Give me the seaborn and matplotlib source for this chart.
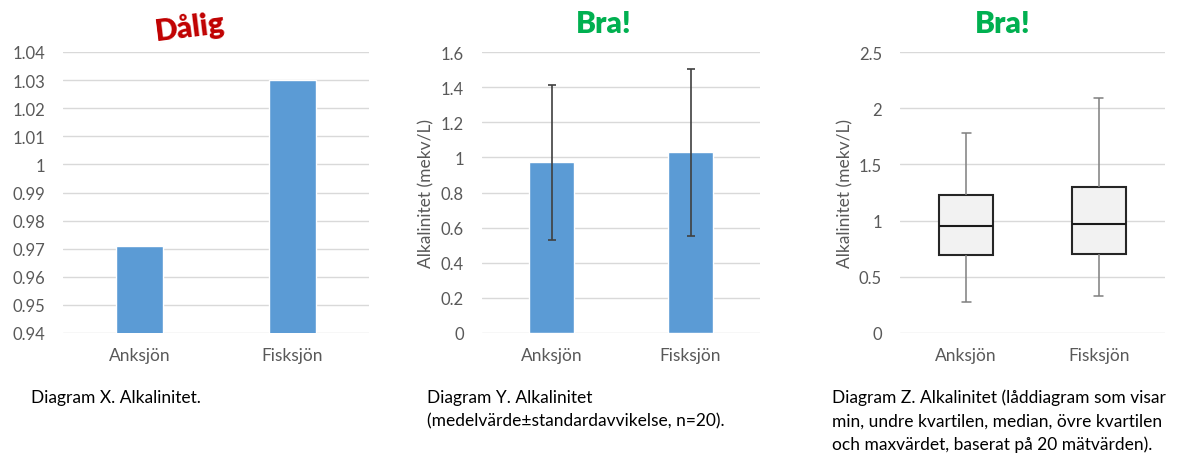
import pandas as pd
import matplotlib
matplotlib.use("Agg")
import matplotlib.pyplot as plt
from matplotlib.ticker import FuncFormatter, MultipleLocator
import seaborn as sns

##### DATA #####
lakes = ["Anksjön", "Fisksjön"]
mean_alk = [0.971, 1.030]          # diagram X and Y
sd_alk = [0.44, 0.475]             # diagram Y
# five-number summaries for diagram Z: min, q1, median, q3, max
ank_summary = [0.28, 0.69, 0.95, 1.23, 1.78]
fisk_summary = [0.33, 0.70, 0.97, 1.30, 2.09]

titles = ["Dålig", "Bra!", "Bra!"]
ylabel = "Alkalinitet (mekv/L)"
caption_x = ["Diagram X. Alkalinitet."]
caption_y = ["Diagram Y. Alkalinitet", "(medelvärde±standardavvikelse, n=20)."]
caption_z = ["Diagram Z. Alkalinitet (låddiagram som visar",
             "min, undre kvartilen, median, övre kvartilen",
             "och maxvärdet, baserat på 20 mätvärden)."]

bars = pd.DataFrame({"lake": lakes, "alk": mean_alk})
boxes = pd.DataFrame({
    "lake": [lakes[0]] * 5 + [lakes[1]] * 5,
    "alk": ank_summary + fisk_summary,
})

##### STYLE #####
sns.set_style("white")
plt.rcParams["font.family"] = ["Lato", "DejaVu Sans"]

W, H = 1177, 456
fig = plt.figure(figsize=(W / 100, H / 100), dpi=100)

BLUE = "#5b9bd5"
GRID = "#d9d9d9"
TXT = "#595959"


def px_axes(x0, x1, y0, y1):
    return fig.add_axes([x0 / W, 1 - y1 / H, (x1 - x0) / W, (y1 - y0) / H])


def fmt(v, pos):
    return f"{round(v, 4):g}"


def style(ax, lo, hi, step):
    ax.set_ylim(lo, hi)
    ax.yaxis.set_major_locator(MultipleLocator(step))
    ax.yaxis.set_major_formatter(FuncFormatter(fmt))
    ax.grid(axis="y", color=GRID, lw=1)
    ax.set_axisbelow(True)
    sns.despine(ax=ax, left=True, bottom=True)
    ax.tick_params(length=0, labelcolor=TXT)
    ax.tick_params(axis="y", pad=13, labelsize=12)
    ax.tick_params(axis="x", pad=10, labelsize=12.5)
    ax.set_xlabel("")
    ax.set_ylabel("")


##### DIAGRAM X #####
ax1 = px_axes(63, 369, 53, 334)
sns.barplot(data=bars, x="lake", y="alk", color=BLUE, width=0.31,
            saturation=1, ax=ax1)
style(ax1, 0.94, 1.04, 0.01)
ax1.set_xlim(-0.5, 1.5)

##### DIAGRAM Y #####
ax2 = px_axes(482, 760, 53, 334)
sns.barplot(data=bars, x="lake", y="alk", color=BLUE, width=0.32,
            saturation=1, ax=ax2)
ax2.errorbar(x=range(len(lakes)), y=mean_alk, yerr=sd_alk, fmt="none",
             ecolor="#404040", elinewidth=1.2, capsize=3, capthick=1.2)
style(ax2, 0, 1.6, 0.2)
ax2.set_xlim(-0.5, 1.5)
ax2.set_ylabel(ylabel, fontsize=12.5, color=TXT)
ax2.yaxis.set_label_coords(-0.17, 0.5)

##### DIAGRAM Z #####
ax3 = px_axes(900, 1165, 53, 334)
sns.boxplot(data=boxes, x="lake", y="alk", whis=(0, 100), width=0.41,
            color="#f2f2f2", saturation=1, linecolor="#262626", linewidth=1.5,
            whiskerprops=dict(color="#7f7f7f", lw=1.1),
            capprops=dict(color="#7f7f7f", lw=1.1),
            medianprops=dict(color="#1a1a1a", lw=1.5),
            capwidths=0.07, ax=ax3)
style(ax3, 0, 2.5, 0.5)
ax3.set_xlim(-0.5, 1.5)
ax3.set_ylabel(ylabel, fontsize=12.5, color=TXT)
ax3.yaxis.set_label_coords(-0.175, 0.5)

##### TITLES & CAPTIONS #####
fig.text(190 / W, 1 - 27 / H, titles[0], color="#c00000", fontsize=21.5,
         fontweight="heavy", ha="center", va="center", rotation=7)
fig.text(604 / W, 1 - 24 / H, titles[1], color="#00b050", fontsize=21.5,
         fontweight="heavy", ha="center", va="center")
fig.text(1003 / W, 1 - 24 / H, titles[2], color="#00b050", fontsize=21.5,
         fontweight="heavy", ha="center", va="center")

for x0, lines in [(31, caption_x), (427, caption_y), (832, caption_z)]:
    for i, line in enumerate(lines):
        fig.text(x0 / W, 1 - (398 + 23.5 * i) / H, line, color="black",
                 fontsize=12.5, ha="left", va="center")

fig.savefig("out.png", dpi=100)
